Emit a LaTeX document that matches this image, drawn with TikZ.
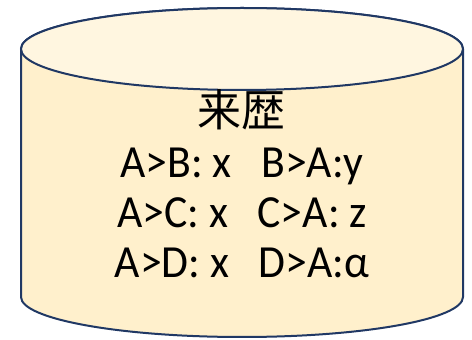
\documentclass[tikz,border=0pt]{standalone}
\usepackage{fontspec}
\setmainfont[FakeStretch=0.95]{Carlito}
\newfontfamily\jpfont{Noto Sans CJK JP}
\usetikzlibrary{backgrounds}
\definecolor{rimblue}{HTML}{203864}
\definecolor{bodyfill}{HTML}{FFF0CC}
\definecolor{topfill}{HTML}{FFF6E0}

\begin{document}
\begin{tikzpicture}[x=1pt, y=1pt]
		\tikzstyle{rim}=[draw=rimblue, line width=2pt]
		\tikzstyle{entry}=[anchor=base, inner sep=0pt, font=\fontsize{46}{50}\selectfont]
		\useasboundingbox (0,0) rectangle (472,340);
		% drum body and lid
		\path[rim, fill=bodyfill] (21,291) -- (21,43)
			arc[start angle=180, end angle=360, x radius=221, y radius=40]
			-- (463,291)
			arc[start angle=0, end angle=180, x radius=221, y radius=41] -- cycle;
		\path[rim, fill=topfill] (242,291) ellipse [x radius=221, y radius=41];
		% contents
		\node[entry, anchor=center, font=\fontsize{44}{48}\jpfont] (title) at (241,230) {来歴};
		\node[entry] (ab) at (242,162) {A>B: x\ \ \ B>A:y};
		\node[entry] (ac) at (242,112) {A>C: x\ \ \ C>A: z};
		\node[entry] (ad) at (242,62) {A>D: x\ \ \ D>A:α};
	\end{tikzpicture}
\end{document}
